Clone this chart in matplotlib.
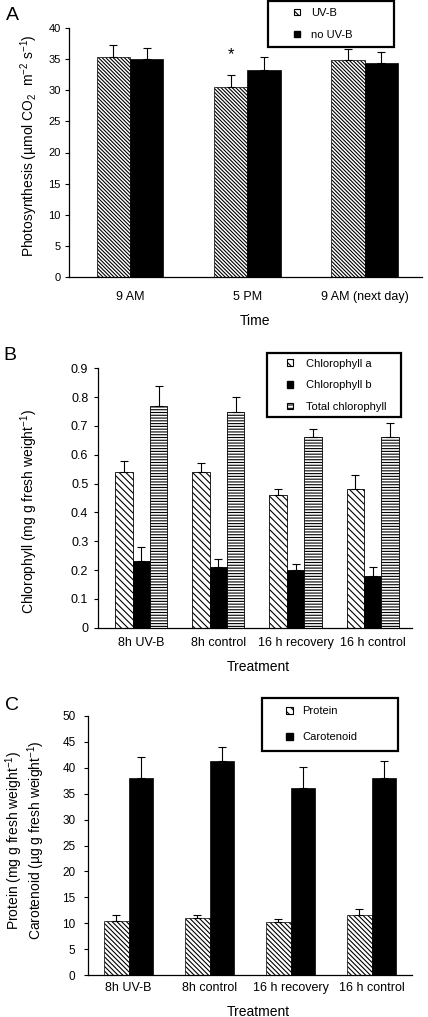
import matplotlib
matplotlib.use('Agg')
import matplotlib.pyplot as plt
from matplotlib.patches import Rectangle
from matplotlib.legend_handler import HandlerPatch
import numpy as np

plt.rcParams['font.family'] = ['Liberation Sans', 'DejaVu Sans']
plt.rcParams['mathtext.fontset'] = 'custom'
plt.rcParams['mathtext.rm'] = 'Liberation Sans'
plt.rcParams['mathtext.it'] = 'Liberation Sans:italic'
plt.rcParams['hatch.linewidth'] = 0.8

# Panel A - photosynthesis
times = ['9 AM', '5 PM', '9 AM (next day)']
photo_uvb = [35.3, 30.6, 34.8]
photo_uvb_err = [2.0, 1.8, 1.8]
photo_none = [35.0, 33.3, 34.3]
photo_none_err = [1.8, 2.1, 1.9]

# Panel B - chlorophyll
treatments = ['8h UV-B', '8h control', '16 h recovery', '16 h control']
chl_a = [0.54, 0.54, 0.46, 0.48]
chl_a_err = [0.04, 0.03, 0.02, 0.05]
chl_b = [0.23, 0.21, 0.20, 0.18]
chl_b_err = [0.05, 0.03, 0.02, 0.03]
chl_tot = [0.77, 0.75, 0.66, 0.66]
chl_tot_err = [0.07, 0.05, 0.03, 0.05]

# Panel C - protein / carotenoid
protein = [10.4, 11.0, 10.2, 11.6]
protein_err = [1.2, 0.6, 0.6, 1.1]
carot = [38.0, 41.2, 36.1, 38.0]
carot_err = [4.0, 2.8, 4.0, 3.2]

W, H = 428, 1017
fig = plt.figure(figsize=(W / 100, H / 100), dpi=100)


def px_axes(left, right, top, bottom):
    return fig.add_axes([left / W, 1 - bottom / H, (right - left) / W, (bottom - top) / H])


def small_square(legend, orig_handle, xdescent, ydescent, width, height, fontsize):
    s = 4.6
    return Rectangle((-xdescent + width - s, -ydescent + (height - s) / 2), s, s)


def style_axes(ax, xpad, ypad, xsize, ysize):
    for sp in ['top', 'right']:
        ax.spines[sp].set_visible(False)
    for sp in ['left', 'bottom']:
        ax.spines[sp].set_linewidth(0.9)
    ax.tick_params(axis='x', length=0, pad=xpad, labelsize=xsize)
    ax.tick_params(axis='y', length=3, width=0.8, pad=ypad, labelsize=ysize, direction='out')


def upper_err(ax, x, y, e):
    ax.errorbar(x, y, yerr=[np.zeros(len(e)), e], fmt='none', ecolor='black',
                elinewidth=0.8, capsize=3, capthick=0.8)


def add_legend(ax, handles, labels, left, top, width, hl, htp, bp, ls):
    leg = ax.legend(handles, labels, loc='upper left', mode='expand',
                    bbox_to_anchor=(left / W, 1 - top / H - 0.1, width / W, 0.1),
                    bbox_transform=fig.transFigure, borderaxespad=0, fontsize=8,
                    handlelength=hl, handletextpad=htp, borderpad=bp, labelspacing=ls,
                    fancybox=False, framealpha=1,
                    handler_map={Rectangle: HandlerPatch(patch_func=small_square)})
    leg.get_frame().set_edgecolor('black')
    leg.get_frame().set_linewidth(1.6)
    return leg


# ---- Panel A ----
axA = px_axes(69, 422, 28, 277)
x = np.arange(len(times))
w = 0.285
axA.bar(x - w / 2, photo_uvb, w, color='white', edgecolor='black', linewidth=0.5, hatch='\\' * 9)
axA.bar(x + w / 2, photo_none, w, color='black', edgecolor='black', linewidth=0.5)
upper_err(axA, x - w / 2, photo_uvb, photo_uvb_err)
upper_err(axA, x + w / 2, photo_none, photo_none_err)
axA.text(1 - w / 2, 35.7, '*', ha='center', va='center', fontsize=12)
axA.set_xlim(-0.52, 2.49)
axA.set_ylim(0, 40)
axA.set_yticks(range(0, 41, 5))
axA.set_xticks(x)
axA.set_xticklabels(times)
style_axes(axA, 10, 3, 9, 8)
hA = [Rectangle((0, 0), 1, 1, facecolor='white', edgecolor='black', hatch='\\' * 4, linewidth=0.8),
      Rectangle((0, 0), 1, 1, facecolor='black', edgecolor='black')]
add_legend(axA, hA, ['UV-B', 'no UV-B'], 268, 1, 126, 2.3, 1.0, 0.6, 1.1)
fig.text(12 / W, 1 - 16 / H, 'A', fontsize=14, ha='center', va='center')
fig.text(29 / W, 1 - 146 / H, 'Photosynthesis (µmol CO$_2$  m$^{-2}$ s$^{-1}$)',
         rotation=90, ha='center', va='center', fontsize=10)
fig.text(255 / W, 1 - 321 / H, 'Time', ha='center', va='center', fontsize=10)

# ---- Panel B ----
axB = px_axes(98, 412, 368.3, 627.7)
x = np.arange(len(treatments))
w = 0.225
axB.bar(x - w, chl_a, w, color='white', edgecolor='black', linewidth=0.6, hatch='\\' * 5)
axB.bar(x, chl_b, w, color='black', edgecolor='black', linewidth=0.6)
axB.bar(x + w, chl_tot, w, color='white', edgecolor='black', linewidth=0.6, hatch='-' * 6)
upper_err(axB, x - w, chl_a, chl_a_err)
upper_err(axB, x, chl_b, chl_b_err)
upper_err(axB, x + w, chl_tot, chl_tot_err)
axB.set_xlim(-0.56, 3.51)
axB.set_ylim(0, 0.9)
axB.set_yticks(np.arange(0, 0.91, 0.1))
axB.set_yticklabels(['0'] + ['%.1f' % v for v in np.arange(0.1, 0.91, 0.1)])
axB.set_xticks(x)
axB.set_xticklabels(treatments)
style_axes(axB, 7, 4, 9, 9)
hB = [Rectangle((0, 0), 1, 1, facecolor='white', edgecolor='black', hatch='\\' * 4, linewidth=0.8),
      Rectangle((0, 0), 1, 1, facecolor='black', edgecolor='black'),
      Rectangle((0, 0), 1, 1, facecolor='white', edgecolor='black', hatch='-' * 5, linewidth=0.8)]
add_legend(axB, hB, ['Chlorophyll a', 'Chlorophyll b', 'Total chlorophyll'],
           267, 353, 134, 1.85, 1.15, 0.5, 1.05)
fig.text(10 / W, 1 - 356 / H, 'B', fontsize=14, ha='center', va='center')
fig.text(29 / W, 1 - 512 / H, 'Chlorophyll (mg g fresh weight$^{-1}$)',
         rotation=90, ha='center', va='center', fontsize=10)
fig.text(258 / W, 1 - 667 / H, 'Treatment', ha='center', va='center', fontsize=10)

# ---- Panel C ----
axC = px_axes(88, 412, 715.7, 975.3)
w = 0.30
axC.bar(x - w / 2, protein, w, color='white', edgecolor='black', linewidth=0.5, hatch='\\' * 7)
axC.bar(x + w / 2, carot, w, color='black', edgecolor='black', linewidth=0.5)
upper_err(axC, x - w / 2, protein, protein_err)
upper_err(axC, x + w / 2, carot, carot_err)
axC.set_xlim(-0.5, 3.5)
axC.set_ylim(0, 50)
axC.set_yticks(range(0, 51, 5))
axC.set_xticks(x)
axC.set_xticklabels(treatments)
style_axes(axC, 5, 6, 9, 8.5)
hC = [Rectangle((0, 0), 1, 1, facecolor='white', edgecolor='black', hatch='\\' * 4, linewidth=0.8),
      Rectangle((0, 0), 1, 1, facecolor='black', edgecolor='black')]
add_legend(axC, hC, ['Protein', 'Carotenoid'], 262, 698, 136, 2.0, 0.9, 0.75, 1.45)
fig.text(12 / W, 1 - 705 / H, 'C', fontsize=14, ha='center', va='center')
fig.text(25 / W, 1 - 840 / H,
         'Protein (mg g fresh weight$^{-1}$)\nCarotenoid (µg g fresh weight$^{-1}$)',
         rotation=90, ha='center', va='center', fontsize=10, multialignment='center',
         linespacing=1.0)
fig.text(258 / W, 1 - 1012 / H, 'Treatment', ha='center', va='center', fontsize=10)

fig.savefig('out.png', dpi=100)
